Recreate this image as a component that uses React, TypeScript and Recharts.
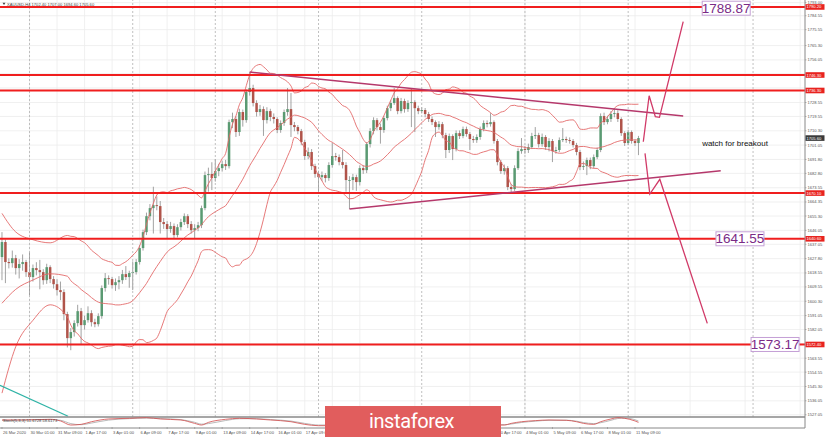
import React from "react";
import {
  ComposedChart,
  Bar,
  Line,
  XAxis,
  YAxis,
  CartesianGrid,
  ReferenceLine,
  ReferenceDot,
} from "recharts";

// ---------- data (XAUUSD, H4) ----------
const firstOpen = 1628.8;
const closes = [
  1638.5, 1625.6, 1624.9, 1628.1, 1621.7, 1624.3, 1625.6, 1619.1, 1615.9, 1621.7,
  1620.4, 1619.1, 1613.9, 1622.3, 1614.6, 1611.3, 1607.5, 1606.2, 1592.0, 1576.5,
  1580.4, 1586.2, 1593.9, 1584.9, 1588.1, 1592.6, 1586.8, 1585.5, 1590.7, 1608.8,
  1615.2, 1614.6, 1610.7, 1612.6, 1613.9, 1617.8, 1615.9, 1618.5, 1619.1, 1625.6,
  1634.6, 1644.9, 1655.2, 1660.4, 1662.3, 1661.7, 1651.4, 1650.1, 1646.9, 1648.8,
  1643.0, 1648.1, 1651.4, 1655.2, 1650.1, 1646.2, 1647.5, 1649.4, 1660.4, 1681.7,
  1682.4, 1679.8, 1684.3, 1686.2, 1688.8, 1687.5, 1715.9, 1717.9, 1709.5, 1722.4,
  1717.2, 1735.3, 1737.9, 1728.2, 1722.4, 1724.3, 1717.2, 1723.0, 1719.2, 1717.9,
  1710.8, 1715.3, 1722.4, 1724.3, 1714.0, 1712.7, 1710.1, 1703.0, 1694.0, 1696.6,
  1687.5, 1682.4, 1680.4, 1681.7, 1679.8, 1688.2, 1694.0, 1693.3, 1690.1, 1688.2,
  1678.5, 1678.5, 1680.4, 1677.2, 1686.2, 1684.9, 1701.7, 1710.1, 1717.2, 1712.7,
  1710.8, 1718.5, 1724.9, 1728.2, 1731.4, 1723.0, 1729.5, 1724.3, 1728.2, 1728.8,
  1724.9, 1723.0, 1723.7, 1721.1, 1717.9, 1715.9, 1712.7, 1714.6, 1707.5, 1697.9,
  1706.9, 1698.5, 1708.8, 1706.9, 1711.4, 1708.2, 1705.0, 1704.3, 1706.3, 1711.4,
  1715.3, 1714.6, 1715.9, 1703.7, 1690.1, 1684.3, 1686.2, 1674.0, 1672.7, 1686.2,
  1697.2, 1698.5, 1697.9, 1699.8, 1706.9, 1707.5, 1701.7, 1706.3, 1699.8, 1703.7,
  1697.2, 1697.9, 1704.3, 1705.0, 1704.3, 1703.7, 1701.1, 1696.6, 1686.9, 1687.5,
  1691.4, 1687.5, 1693.3, 1697.9, 1719.8, 1715.9, 1717.9, 1721.1, 1721.7, 1717.9,
  1708.8, 1702.4, 1709.5, 1703.7, 1702.4, 1705.6,
];
const highs = [
  1644.9, 1640.1, 1628.0, 1633.0, 1630.2, 1627.5, 1630.5, 1627.0, 1631.9, 1624.0,
  1625.5, 1627.0, 1621.0, 1624.5, 1623.5, 1616.5, 1614.5, 1613.0, 1608.0, 1593.5,
  1583.0, 1588.0, 1598.0, 1596.0, 1591.0, 1597.0, 1594.5, 1589.0, 1592.5, 1610.5,
  1618.5, 1617.0, 1616.0, 1615.0, 1616.5, 1620.5, 1623.0, 1620.0, 1626.0, 1627.5,
  1636.5, 1646.5, 1657.5, 1663.0, 1674.2, 1668.0, 1665.0, 1654.0, 1652.0, 1651.5,
  1650.5, 1650.0, 1653.5, 1657.0, 1656.5, 1652.0, 1650.0, 1651.5, 1662.0, 1684.0,
  1686.5, 1690.0, 1692.0, 1689.0, 1691.0, 1691.5, 1717.5, 1722.0, 1719.5, 1724.5,
  1724.0, 1737.0, 1748.2, 1740.0, 1730.0, 1727.0, 1726.0, 1725.5, 1724.5, 1721.5,
  1719.0, 1717.0, 1724.0, 1737.9, 1734.7, 1716.0, 1714.0, 1711.5, 1704.5, 1699.5,
  1698.5, 1689.0, 1684.5, 1684.0, 1683.0, 1690.0, 1702.4, 1696.0, 1695.0, 1697.9,
  1690.0, 1681.0, 1682.5, 1682.0, 1688.0, 1688.0, 1703.0, 1712.0, 1719.0, 1718.5,
  1715.0, 1720.0, 1726.5, 1730.0, 1737.9, 1732.5, 1731.5, 1731.0, 1730.0, 1737.9,
  1730.0, 1726.5, 1725.5, 1725.0, 1722.5, 1719.5, 1717.0, 1716.5, 1716.0, 1709.0,
  1708.5, 1708.0, 1710.5, 1710.5, 1713.0, 1713.0, 1709.5, 1707.0, 1708.0, 1713.0,
  1717.0, 1717.0, 1721.7, 1717.0, 1705.0, 1691.5, 1688.5, 1687.5, 1676.0, 1688.0,
  1699.0, 1705.6, 1700.5, 1702.0, 1709.0, 1712.7, 1709.0, 1708.5, 1707.5, 1705.5,
  1705.0, 1700.0, 1706.0, 1712.1, 1706.5, 1706.0, 1705.0, 1702.5, 1698.0, 1690.5,
  1693.0, 1693.0, 1695.0, 1699.5, 1721.5, 1722.0, 1720.0, 1723.0, 1725.0, 1723.5,
  1719.0, 1710.0, 1711.0, 1710.5, 1705.0, 1707.0,
];
const lows = [
  1613.9, 1612.0, 1621.5, 1622.0, 1617.5, 1615.0, 1620.0, 1616.0, 1604.3, 1613.0,
  1617.0, 1608.0, 1611.0, 1611.5, 1612.0, 1608.5, 1604.0, 1601.0, 1588.0, 1570.5,
  1568.7, 1577.5, 1584.0, 1572.0, 1582.0, 1586.5, 1584.0, 1583.5, 1584.0, 1589.0,
  1606.5, 1611.0, 1608.5, 1607.0, 1608.0, 1611.5, 1614.0, 1609.0, 1607.5, 1617.5,
  1624.0, 1633.0, 1643.0, 1652.5, 1644.0, 1659.0, 1644.0, 1647.0, 1641.0, 1644.5,
  1640.5, 1641.5, 1646.0, 1649.5, 1647.5, 1644.0, 1640.5, 1645.5, 1647.5, 1659.0,
  1671.0, 1672.0, 1677.5, 1681.0, 1684.0, 1685.0, 1686.0, 1712.0, 1706.3, 1707.0,
  1713.0, 1715.5, 1733.0, 1726.0, 1719.5, 1720.0, 1707.0, 1715.0, 1716.5, 1715.0,
  1708.8, 1709.0, 1713.5, 1720.0, 1706.3, 1710.0, 1708.0, 1701.0, 1691.5, 1692.0,
  1685.0, 1680.0, 1671.0, 1678.0, 1677.0, 1678.0, 1686.5, 1691.0, 1688.0, 1686.0,
  1671.0, 1659.8, 1672.0, 1671.5, 1675.0, 1682.5, 1683.0, 1699.5, 1708.0, 1710.5,
  1702.0, 1709.0, 1717.0, 1723.0, 1727.0, 1721.0, 1721.5, 1722.0, 1722.5, 1712.7,
  1709.5, 1721.0, 1721.5, 1719.0, 1716.0, 1714.0, 1706.3, 1711.0, 1705.5, 1692.7,
  1696.0, 1691.4, 1697.0, 1705.0, 1705.5, 1706.5, 1697.9, 1702.5, 1702.5, 1704.5,
  1710.0, 1712.5, 1713.0, 1702.0, 1688.0, 1682.5, 1682.0, 1672.0, 1670.7, 1671.5,
  1685.0, 1695.5, 1695.5, 1696.0, 1698.5, 1705.0, 1699.5, 1700.0, 1698.0, 1697.0,
  1690.1, 1695.5, 1696.5, 1703.0, 1702.5, 1702.0, 1699.5, 1694.5, 1684.9, 1685.0,
  1681.7, 1685.5, 1686.0, 1692.0, 1696.5, 1714.0, 1714.5, 1716.0, 1719.0, 1716.0,
  1707.0, 1700.5, 1701.0, 1702.0, 1700.5, 1694.6,
];

// Bollinger band values visible before a full 20-bar window exists
const bbEarlyBars = [0, 4, 9, 14];
const bbEarlyUpper = [1657.0, 1645.0, 1640.0, 1638.0];
const bbEarlyMid = [1599.0, 1608.0, 1614.0, 1618.0];
const bbEarlyLower = [1541.0, 1571.0, 1588.0, 1598.0];

// time axis labels that are visible (the others sit under the banner)
const dateLabels = [
  "26 Mar 2020", "30 Mar 01:00", "31 Mar 09:00", "1 Apr 17:00", "3 Apr 01:00",
  "6 Apr 09:00", "7 Apr 17:00", "9 Apr 01:00", "13 Apr 09:00", "14 Apr 17:00",
  "16 Apr 01:00", "17 Apr 09:00", "30 Apr 17:00", "4 May 01:00",
  "5 May 09:00", "6 May 17:00", "8 May 01:00", "11 May 09:00",
];
const dateLabelBars = [
  0, 8, 16, 24, 32, 40, 48, 56, 64, 72, 80, 88, 144, 152, 160, 168, 176, 184,
];

// price axis labels that are visible (others are covered by level tags)
const priceTicks = [
  1527.05, 1536.05, 1545.3, 1554.55, 1563.55, 1582.05, 1591.05, 1600.3,
  1609.55, 1618.55, 1627.8, 1637.05, 1646.05, 1655.3, 1664.35, 1673.55, 1682.8,
  1691.8, 1701.05, 1710.3, 1719.55, 1728.55, 1756.05, 1765.3,
  1775.55, 1784.55, 1793.0,
];
const gridPrices = [
  1527.05, 1536.05, 1545.3, 1554.55, 1563.55, 1572.9, 1582.05, 1591.05, 1600.3,
  1609.55, 1618.55, 1627.8, 1637.05, 1646.05, 1655.3, 1664.35, 1673.55, 1682.8,
  1691.8, 1701.05, 1710.3, 1719.55, 1728.55, 1737.95, 1747.1, 1756.05, 1765.3,
  1775.55, 1784.55, 1793.0,
];

// horizontal levels
const levelPrices = [1790.2, 1746.3, 1736.3, 1670.1, 1640.6, 1572.4];
const levelBox = [0, -1, -1, -1, 1, 2];

// target labels
const targetLabels = ["1788.87", "1641.55", "1573.17"];
const targetBars = [210.5, 214.5, 224.7];
const targetPrices = [1789.4, 1640.6, 1572.4];
const targetFrom = [203.5, 207.6, 217.7];
const targetTo = [217.4, 221.5, 231.7];

// drawn lines (bar index, price)
const upperTrend = [
  { i: 72, p: 1748.2 },
  { i: 198.0, p: 1719.8 },
];
const lowerTrend = [
  { i: 101, p: 1659.8 },
  { i: 208.9, p: 1684.5 },
];
const upArrow = [
  { i: 186.4, p: 1703.2 },
  { i: 188.1, p: 1732.9 },
  { i: 189.9, p: 1719.4 },
  { i: 191.1, p: 1719.0 },
  { i: 198.0, p: 1780.7 },
];
const downArrow = [
  { i: 186.9, p: 1695.7 },
  { i: 188.3, p: 1669.5 },
  { i: 191.2, p: 1679.0 },
  { i: 205.0, p: 1586.0 },
];
const tealLine = [
  { i: -0.58, p: 1546.1 },
  { i: 19.2, p: 1526.1 },
];
const noteBar = 203.5;
const notePrice = 1702.4;
const noteText = "watch for breakout";

// oscillator sub-window
const oscBars = [
  0, 6, 14, 17, 20, 23, 26, 31, 37, 42, 46, 52, 56, 58, 60, 65, 69, 74, 78, 84,
  88, 92, 146, 148, 151, 155, 159, 164, 167, 169, 172, 174, 177, 179, 181, 184, 185,
];
const oscMain = [
  73, 73, 79, 64, 27, 33, 57, 82, 88, 94, 82, 73, 42, 27, 51, 79, 88, 82, 73, 57,
  33, 21, 27, 42, 57, 67, 73, 70, 57, 42, 33, 57, 82, 94, 88, 64, 51,
];
const oscSignal = [
  70, 72, 76, 70, 40, 30, 45, 72, 85, 90, 86, 76, 52, 35, 40, 68, 84, 85, 77, 63,
  42, 27, 30, 36, 50, 62, 70, 71, 62, 50, 40, 48, 70, 86, 90, 75, 63,
];

const weekSeparators = [8, 38, 62, 92, 122, 152, 182, 218.3];

// ---------- layout / style ----------
const X_DOMAIN: [number, number] = [-0.58, 233.4];
const Y_DOMAIN: [number, number] = [1525.6, 1794.7];
const gridBars = Array.from({ length: 30 }, (_, k) => k * 8);
const FONT = '"Liberation Sans", Arial, sans-serif';
const GREEN = "#5a9a72";
const RED = "#b0544a";
const LEVEL = "#f01e1e";
const BAND = "#e36a6a";
const TREND = "#b5386b";
const ARROW = "#d13a68";

function CandleShape(props: any) {
  const { x, y, width, height } = props;
  const d = props.payload ?? props;
  if (!isFinite(x) || !isFinite(y) || !isFinite(height)) return null;
  const top = Math.min(y, y + height);
  const bottom = Math.max(y, y + height);
  const span = d.high - d.low || 1;
  const toY = (p: number) => top + ((d.high - p) / span) * (bottom - top);
  const cx = x + width / 2;
  const yo = toY(d.open);
  const yc = toY(d.close);
  const up = d.close >= d.open;
  const bt = Math.min(yo, yc);
  const bh = Math.max(Math.abs(yc - yo), 0.9);
  return (
    <g>
      <line x1={cx} x2={cx} y1={top} y2={bottom} stroke="#8a8a8a" strokeWidth={0.8} />
      <rect x={cx - 1.25} y={bt} width={2.5} height={bh} fill={up ? GREEN : RED} />
    </g>
  );
}

function PriceTick(props: any) {
  const { x, y, payload } = props;
  return (
    <text x={x} y={y} dy={1.5} fontSize={4.1} fill="#555" fontFamily={FONT} textAnchor="start">
      {Number(payload.value).toFixed(2)}
    </text>
  );
}

function DateTick(props: any) {
  const { x, y, payload } = props;
  const k = dateLabelBars.indexOf(payload.value);
  if (k < 0) return null;
  return (
    <g>
      <line x1={x} x2={x} y1={y - 3} y2={y - 1} stroke="#888" strokeWidth={0.6} />
      <text x={x + 1} y={y} dy={4} fontSize={4.1} fill="#555" fontFamily={FONT} textAnchor="start">
        {dateLabels[k]}
      </text>
    </g>
  );
}

function makeTag(text: string, bg: string) {
  return (p: any) => (
    <g>
      <rect x={p.cx + 0.5} y={p.cy - 2.8} width={19} height={5.6} fill={bg} />
      <text x={p.cx + 1.5} y={p.cy} dy={1.5} fontSize={4.1} fill="#fff" fontFamily={FONT}>
        {text}
      </text>
    </g>
  );
}

function makeBox(text: string) {
  return (p: any) => (
    <g>
      <rect x={p.cx - 24} y={p.cy - 7} width={48} height={14} fill="#fff" stroke="#c4a0d6" strokeWidth={1} />
      <text
        x={p.cx}
        y={p.cy}
        dy={4.6}
        fontSize={13.5}
        fill="#7a2a86"
        fontFamily={FONT}
        textAnchor="middle"
      >
        {text}
      </text>
    </g>
  );
}

function noteShape(p: any) {
  return (
    <text x={p.cx} y={p.cy} dy={2.8} fontSize={8} fill="#111" fontFamily={FONT}>
      {noteText}
    </text>
  );
}

function buildBands() {
  const out: { i: number; upper: number; mid: number; lower: number }[] = bbEarlyBars.map((b, k) => ({
    i: b,
    upper: bbEarlyUpper[k],
    mid: bbEarlyMid[k],
    lower: bbEarlyLower[k],
  }));
  for (let i = 19; i < closes.length; i++) {
    const w = closes.slice(i - 19, i + 1);
    const m = w.reduce((a, b) => a + b, 0) / w.length;
    const sd = Math.sqrt(w.reduce((a, b) => a + (b - m) * (b - m), 0) / w.length);
    out.push({ i, upper: m + 2 * sd, mid: m, lower: m - 2 * sd });
  }
  return out;
}

const lineCommon = { dot: false, activeDot: false, isAnimationActive: false } as const;

export default function App() {
  const candles = closes.map((c, i) => ({
    i,
    open: i === 0 ? firstOpen : closes[i - 1],
    high: highs[i],
    low: lows[i],
    close: c,
  }));
  const bands = buildBands();
  const oscMainData = oscBars.map((b, k) => ({ i: b, v: oscMain[k] }));
  const oscSignalData = oscBars.map((b, k) => ({ i: b, v: oscSignal[k] }));
  const last = candles[candles.length - 1];
  const title = `XAUUSD,H4  ${last.open.toFixed(2)} ${last.high.toFixed(2)} ${last.low.toFixed(2)} ${last.close.toFixed(2)}`;

  return (
    <div
      style={{
        position: "absolute",
        left: 0,
        top: 0,
        width: 825,
        height: 437,
        background: "#fff",
        overflow: "hidden",
        fontFamily: FONT,
      }}
    >
      <div style={{ position: "absolute", left: 0, top: 0 }}>
        <ComposedChart width={825} height={417} data={candles} margin={{ top: 0, right: 0, bottom: 0, left: 0 }}>
          <CartesianGrid stroke="#ececec" strokeWidth={0.8} horizontalValues={gridPrices} verticalValues={gridBars} />
          <XAxis type="number" dataKey="i" domain={X_DOMAIN} allowDataOverflow hide ticks={gridBars} />
          <YAxis
            orientation="right"
            type="number"
            domain={Y_DOMAIN}
            allowDataOverflow
            ticks={priceTicks}
            interval={0}
            width={20}
            tickSize={1.5}
            tickMargin={1}
            tick={<PriceTick />}
            tickLine={{ stroke: "#888", strokeWidth: 0.6 }}
            axisLine={{ stroke: "#888" }}
          />
          {weekSeparators.map((b) => (
            <ReferenceLine key={`w${b}`} x={b} stroke="#b0b0b0" strokeWidth={0.8} strokeDasharray="2 2" />
          ))}
          <Line data={bands} dataKey="upper" type="monotone" stroke={BAND} strokeWidth={0.9} {...lineCommon} />
          <Line data={bands} dataKey="mid" type="monotone" stroke={BAND} strokeWidth={0.9} {...lineCommon} />
          <Line data={bands} dataKey="lower" type="monotone" stroke={BAND} strokeWidth={0.9} {...lineCommon} />
          <Bar dataKey={(d: any) => [d.low, d.high]} shape={CandleShape} activeBar={false} barSize={3} isAnimationActive={false} />
          {levelPrices.map((p, k) =>
            levelBox[k] < 0 ? (
              <ReferenceLine key={`l${k}`} y={p} stroke={LEVEL} strokeWidth={2} />
            ) : (
              <React.Fragment key={`l${k}`}>
                <ReferenceLine
                  segment={[
                    { x: X_DOMAIN[0], y: p },
                    { x: targetFrom[levelBox[k]], y: p },
                  ]}
                  stroke={LEVEL}
                  strokeWidth={2}
                />
                <ReferenceLine
                  segment={[
                    { x: targetTo[levelBox[k]], y: p },
                    { x: X_DOMAIN[1], y: p },
                  ]}
                  stroke={LEVEL}
                  strokeWidth={2}
                />
              </React.Fragment>
            )
          )}
          <Line data={upperTrend} dataKey="p" type="linear" stroke={TREND} strokeWidth={1.4} {...lineCommon} />
          <Line data={lowerTrend} dataKey="p" type="linear" stroke={TREND} strokeWidth={1.4} {...lineCommon} />
          <Line data={upArrow} dataKey="p" type="linear" stroke={ARROW} strokeWidth={1.3} {...lineCommon} />
          <Line data={downArrow} dataKey="p" type="linear" stroke={ARROW} strokeWidth={1.3} {...lineCommon} />
          <Line data={tealLine} dataKey="p" type="linear" stroke="#2fb3a6" strokeWidth={1.2} {...lineCommon} />
          {targetLabels.map((t, k) => (
            <ReferenceDot key={`t${k}`} x={targetBars[k]} y={targetPrices[k]} r={0} shape={makeBox(t)} />
          ))}
          <ReferenceDot x={noteBar} y={notePrice} r={0} shape={noteShape} />
          {levelPrices.map((p, k) => (
            <ReferenceDot key={`g${k}`} x={X_DOMAIN[1]} y={p} r={0} shape={makeTag(p.toFixed(2), "#e8231f")} />
          ))}
          <ReferenceDot x={X_DOMAIN[1]} y={last.close} r={0} shape={makeTag(last.close.toFixed(2), "#3a3a3a")} />
        </ComposedChart>
      </div>
      <div style={{ position: "absolute", left: 0, top: 416 }}>
        <ComposedChart width={825} height={21} margin={{ top: 1, right: 0, bottom: 0, left: 0 }}>
          <XAxis
            type="number"
            dataKey="i"
            domain={X_DOMAIN}
            allowDataOverflow
            ticks={dateLabelBars}
            interval={0}
            height={9}
            tickSize={0}
            tickMargin={2}
            tick={<DateTick />}
            axisLine={{ stroke: "#888" }}
          />
          <YAxis orientation="right" type="number" domain={[0, 100]} allowDataOverflow width={20} tick={false} tickLine={false} axisLine={{ stroke: "#888" }} />
          <ReferenceLine y={100} stroke="#888" strokeWidth={1.4} />
          <Line data={oscSignalData} dataKey="v" type="monotone" stroke="#a8a8a8" strokeWidth={0.8} {...lineCommon} />
          <Line data={oscMainData} dataKey="v" type="monotone" stroke="#d04a4a" strokeWidth={0.8} {...lineCommon} />
        </ComposedChart>
      </div>
      <svg
        width={825}
        height={437}
        style={{ position: "absolute", left: 0, top: 0, pointerEvents: "none" }}
      >
        <path d="M2.5 2.8 L5.5 2.8 L4 5 Z" fill="#444" />
        <text x={7} y={5.5} fontSize={4.1} fill="#444" fontFamily={FONT}>
          {title}
        </text>
        <text x={3} y={422} fontSize={4.1} fill="#444" fontFamily={FONT}>
          Stoch(5,3,3) 51.6728 58.6173
        </text>
        <rect x={325} y={406} width={176} height={31} fill="#e15d5d" />
        <text x={369} y={428} fontSize={20} fill="#fff" fontFamily="Roboto, sans-serif" letterSpacing={-0.4}>
          instaforex
        </text>
      </svg>
    </div>
  );
}
